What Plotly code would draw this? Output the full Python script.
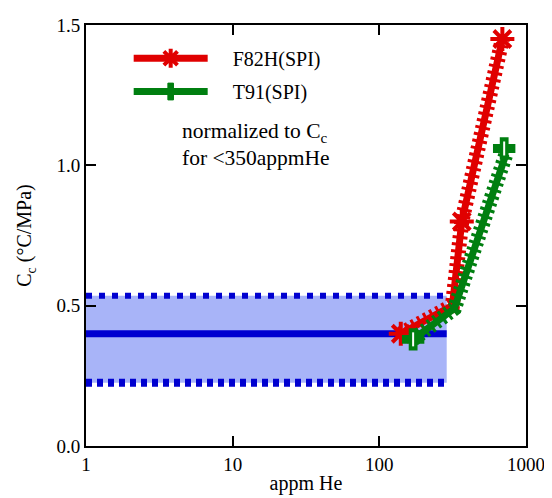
import plotly.graph_objects as go

# ---- data ----
band_x = [1, 288]
band_low = [0.225, 0.225]
band_high = [0.535, 0.535]
band_mean = [0.40, 0.40]

f82h_x = [140, 315, 365, 690]
f82h_y = [0.40, 0.50, 0.80, 1.45]
f82h_mx = [140, 365, 690]
f82h_my = [0.40, 0.80, 1.45]

t91_x = [170, 325, 730]
t91_y = [0.38, 0.49, 1.04]
t91_mx = [170, 710]
t91_my = [0.38, 1.06]

x_ticks = [1, 10, 100, 1000]
x_ticktext = ["1", "10", "100", "1000"]
y_ticks = [0, 0.5, 1.0, 1.5]

BLUE = "#0000D0"
RED = "#E00000"
GREEN = "#007F10"
FONT = "'Liberation Serif', 'Times New Roman', 'DejaVu Serif', serif"
PAD = "&nbsp;" * 4

fig = go.Figure()

# band fill
fig.add_trace(go.Scatter(x=band_x, y=band_low, mode="lines", line=dict(width=0),
                         showlegend=False, hoverinfo="skip"))
fig.add_trace(go.Scatter(x=band_x, y=band_high, mode="lines", line=dict(width=0),
                         fill="tonexty", fillcolor="#A8B4F8", showlegend=False, hoverinfo="skip"))
# band edges (dotted)
fig.add_trace(go.Scatter(x=band_x, y=band_high, mode="lines",
                         line=dict(color=BLUE, width=6, dash="6px,7px"), showlegend=False))
fig.add_trace(go.Scatter(x=band_x, y=band_low, mode="lines",
                         line=dict(color=BLUE, width=8, dash="6px,5px"), showlegend=False))
# mean line
fig.add_trace(go.Scatter(x=band_x, y=band_mean, mode="lines",
                         line=dict(color=BLUE, width=7), showlegend=False))

# F82H
fig.add_trace(go.Scatter(x=f82h_x, y=f82h_y, mode="lines",
                         line=dict(color=RED, width=15, dash="3px,4px"), showlegend=False))
fig.add_trace(go.Scatter(x=f82h_x, y=f82h_y, mode="lines",
                         line=dict(color=RED, width=7), showlegend=False))
fig.add_trace(go.Scatter(x=f82h_mx, y=f82h_my, mode="markers",
                         marker=dict(symbol="asterisk-open", size=20, color=RED,
                                     line=dict(color=RED, width=4)),
                         showlegend=False))
# legend entry only (no data)
fig.add_trace(go.Scatter(x=[None], y=[None], mode="lines+markers", name=PAD + "F82H(SPI)",
                         line=dict(color=RED, width=7),
                         marker=dict(symbol="asterisk-open", size=16, color=RED,
                                     line=dict(color=RED, width=4)),
                         legend="legend", showlegend=True))

# T91
fig.add_trace(go.Scatter(x=t91_x, y=t91_y, mode="lines",
                         line=dict(color=GREEN, width=15, dash="3px,4px"), showlegend=False))
fig.add_trace(go.Scatter(x=t91_x, y=t91_y, mode="lines",
                         line=dict(color=GREEN, width=7), showlegend=False))
fig.add_trace(go.Scatter(x=t91_mx, y=t91_my, mode="markers",
                         marker=dict(symbol="cross", size=17, color=GREEN,
                                     line=dict(color=GREEN, width=2)),
                         showlegend=False))
fig.add_trace(go.Scatter(x=t91_mx, y=t91_my, mode="markers",
                         marker=dict(symbol="line-ns", size=10, color="white",
                                     line=dict(color="white", width=2)),
                         showlegend=False))
# legend entry only (no data)
fig.add_trace(go.Scatter(x=[None], y=[None], mode="lines+markers", name=PAD + "T91(SPI)",
                         line=dict(color=GREEN, width=7),
                         marker=dict(symbol="cross", size=14, color=GREEN,
                                     line=dict(color=GREEN, width=1)),
                         legend="legend2", showlegend=True))

fig.add_annotation(x=0.214, y=0.744, xref="paper", yref="paper", xanchor="left", yanchor="middle",
                   text="normalized to C<sub>c</sub>", showarrow=False,
                   font=dict(family=FONT, size=21.5, color="black"))
fig.add_annotation(x=0.214, y=0.683, xref="paper", yref="paper", xanchor="left", yanchor="middle",
                   text="for &lt;350appmHe", showarrow=False,
                   font=dict(family=FONT, size=21.5, color="black"))

axis_common = dict(showline=True, linecolor="black", linewidth=2, mirror="ticks",
                   ticks="inside", ticklen=10, tickwidth=1.5, tickcolor="black",
                   showgrid=False, zeroline=False, ticklabeloverflow="allow",
                   tickfont=dict(family=FONT, size=19, color="black"))

fig.update_xaxes(type="log", range=[0, 3], tickvals=x_ticks, ticktext=x_ticktext,
                 title=dict(text="appm He", font=dict(family=FONT, size=20, color="black"),
                            standoff=2),
                 **axis_common)
fig.update_yaxes(range=[0, 1.5], tickvals=y_ticks, tickformat=".1f",
                 title=dict(text="C<sub>c</sub> (°C/MPa)",
                            font=dict(family=FONT, size=20, color="black"), standoff=19),
                 **axis_common)

legend_common = dict(xanchor="left", yanchor="middle", bgcolor="rgba(0,0,0,0)", itemwidth=74,
                     font=dict(family=FONT, size=20, color="black"))
fig.update_layout(
    width=544, height=490,
    margin=dict(l=78, r=24, t=7, b=42),
    plot_bgcolor="white", paper_bgcolor="white",
    font=dict(family=FONT),
    showlegend=True,
    legend=dict(x=0.097, y=0.921, **legend_common),
    legend2=dict(x=0.097, y=0.842, **legend_common),
)

fig.write_html("out.html")
